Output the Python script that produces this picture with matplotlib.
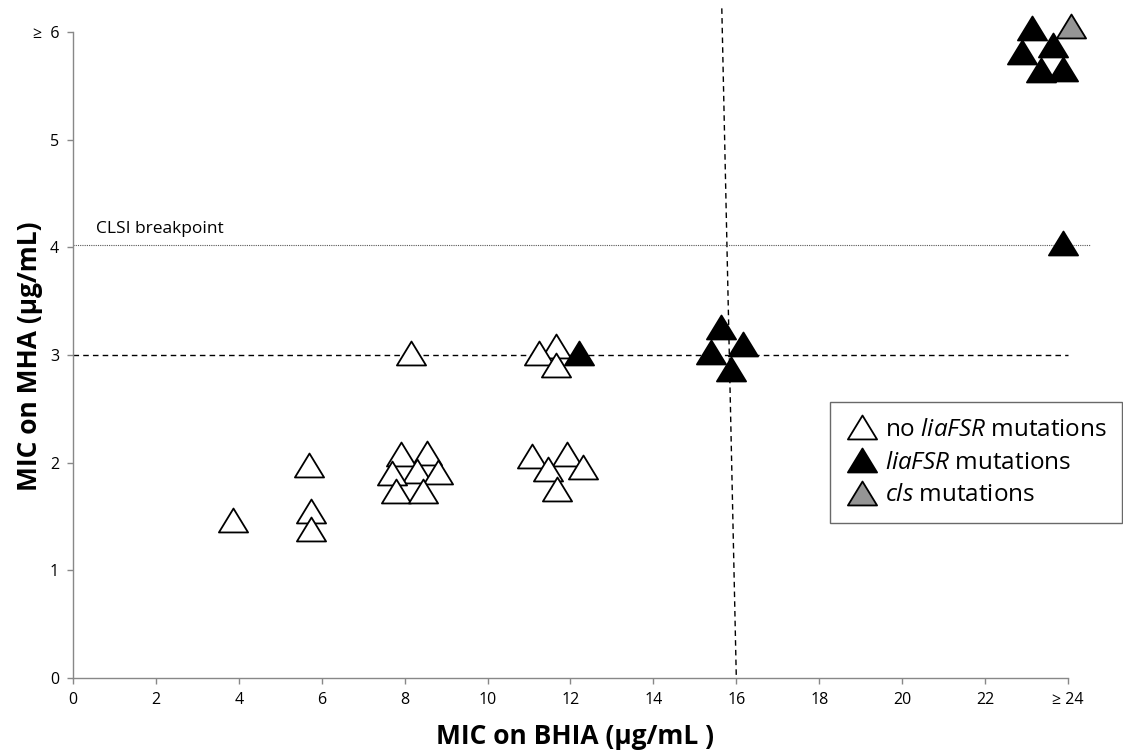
import matplotlib.pyplot as plt
from matplotlib.path import Path

plt.rcParams['font.family'] = ['Open Sans', 'DejaVu Sans']
plt.rcParams['mathtext.fontset'] = 'custom'
plt.rcParams['mathtext.rm'] = 'Open Sans'
plt.rcParams['mathtext.it'] = 'Open Sans:italic'

# MIC values (BHIA on x, MHA on y)
no_lia_x = [11.65, 5.69, 8.55, 7.90, 11.91, 11.06, 11.23, 8.16, 12.29, 11.45, 8.30, 7.69, 8.81,
            11.67, 7.79, 8.45, 5.74, 3.86, 5.74, 11.65]
no_lia_y = [3.08, 1.98, 2.09, 2.08, 2.08, 2.06, 3.02, 3.02, 1.96, 1.94, 1.92, 1.90, 1.91,
            1.76, 1.74, 1.74, 1.55, 1.47, 1.38, 2.91]
lia_x = [23.14, 23.65, 22.90, 23.87, 23.34, 23.88, 15.64, 16.17, 12.20, 15.40, 15.86]
lia_y = [6.04, 5.88, 5.81, 5.66, 5.65, 4.04, 3.26, 3.10, 3.02, 3.03, 2.87]
cls_x = [24.07]
cls_y = [6.06]

xticks = list(range(0, 25, 2))
xticklabels = [str(t) for t in xticks[:-1]] + ['\u2265 24']
yticks = list(range(0, 7))
yticklabels = [str(t) for t in yticks[:-1]] + ['\u2265  6']

tri = Path([(-1, -0.82), (1, -0.82), (0, 0.82), (-1, -0.82)],
           [Path.MOVETO, Path.LINETO, Path.LINETO, Path.CLOSEPOLY])

fig = plt.figure(figsize=(11.23, 7.52), dpi=100)
ax = fig.add_axes([0.065, 0.0984, 0.886, 0.859])

ms = 21
kw = dict(marker=tri, markersize=ms, markeredgecolor='black', markeredgewidth=1.3,
          linestyle='none', clip_on=False, zorder=5)
ax.plot(no_lia_x, no_lia_y, markerfacecolor='white', label=r'no $liaFSR$ mutations', **kw)
ax.plot(lia_x, lia_y, markerfacecolor='black', label=r'$liaFSR$ mutations', **kw)
ax.plot(cls_x, cls_y, markerfacecolor='#959595', label=r'$cls$ mutations', **kw)

# reference lines
ax.plot([0, 24], [3, 3], color='black', lw=1, dashes=(4, 3), zorder=2, clip_on=False)
ax.plot([15.65, 16], [6.22, 0], color='black', lw=1, dashes=(4, 3), zorder=2, clip_on=False)
ax.plot([0, 24.53], [4.02, 4.02], color='#555555', lw=0.8, dashes=(1, 1), zorder=2, clip_on=False)
ax.text(0.55, 4.1, 'CLSI breakpoint', fontsize=12.5, ha='left', va='bottom')

ax.set_xlim(0, 24)
ax.set_ylim(0, 6)
ax.set_xticks(xticks)
ax.set_xticklabels(xticklabels)
ax.set_yticks(yticks)
ax.set_yticklabels(yticklabels)
ax.tick_params(direction='out', length=4, width=1, color='#888888', labelsize=11.5, pad=6)

for s in ['top', 'right']:
    ax.spines[s].set_visible(False)
for s in ['left', 'bottom']:
    ax.spines[s].set_color('#888888')
    ax.spines[s].set_linewidth(1)

fig.text(575 / 1123, 1 - 736 / 752, 'MIC on BHIA (\u00b5g/mL )', fontsize=19, fontweight='bold',
         ha='center', va='center')
fig.text(30 / 1123, 1 - 356 / 752, 'MIC on MHA (\u00b5g/mL)', fontsize=19, fontweight='bold',
         ha='center', va='center', rotation=90)

leg = ax.legend(loc='upper left', bbox_to_anchor=(830 / 1123, 1 - 402 / 752),
                bbox_transform=fig.transFigure, fontsize=17.5, frameon=True, fancybox=False,
                handletextpad=0.3, handlelength=1.3, borderpad=0.65, labelspacing=0.36,
                borderaxespad=0, markerscale=1.0)
leg.get_frame().set_edgecolor('#444444')
leg.get_frame().set_linewidth(1)

fig.savefig('out.png', dpi=100)
